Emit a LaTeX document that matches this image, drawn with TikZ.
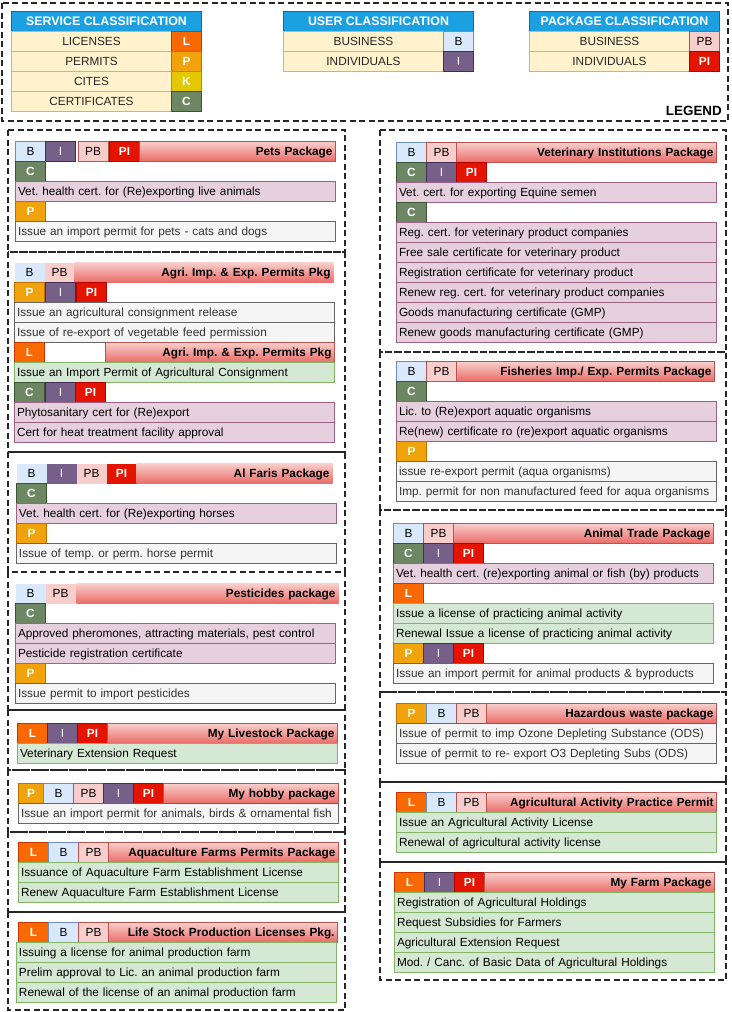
\documentclass[tikz,border=0pt]{standalone}
\usepackage{fontspec}
\setmainfont{Liberation Sans}
\frenchspacing
\newcommand{\itemfont}{\fontsize{11.8}{14}\selectfont}
\definecolor{fillL}{HTML}{FA6800}\definecolor{lineL}{HTML}{C73500}
\definecolor{fillP}{HTML}{F0A30A}\definecolor{lineP}{HTML}{BD7000}
\definecolor{fillK}{HTML}{E3C800}\definecolor{lineK}{HTML}{B09500}
\definecolor{fillC}{HTML}{6D8764}\definecolor{lineC}{HTML}{3A5431}
\definecolor{fillB}{HTML}{DAE8FC}\definecolor{lineB}{HTML}{6C8EBF}
\definecolor{fillI}{HTML}{76608A}\definecolor{lineI}{HTML}{432D57}
\definecolor{fillPB}{HTML}{F8CECC}\definecolor{linePB}{HTML}{B85450}
\definecolor{fillPI}{HTML}{E51400}\definecolor{linePI}{HTML}{B20000}
\definecolor{barTop}{HTML}{F8CECC}\definecolor{barBot}{HTML}{EA6B66}
\definecolor{pinkFill}{HTML}{E6D0DE}\definecolor{pinkLine}{HTML}{996185}
\definecolor{greyFill}{HTML}{F5F5F5}\definecolor{greyLine}{HTML}{666666}\definecolor{greyText}{HTML}{333333}
\definecolor{greenFill}{HTML}{D5E8D4}\definecolor{greenLine}{HTML}{82B366}
\definecolor{headFill}{HTML}{1BA1E2}\definecolor{headLine}{HTML}{006EAF}
\definecolor{rowFill}{HTML}{FFF2CC}\definecolor{rowLine}{HTML}{D6B656}
\tikzset{
  tag/.style={shape=rectangle, draw, line width=1pt, anchor=north west, minimum width=30, minimum height=20, inner sep=0pt, font=\itemfont},
  tagL/.style={tag, fill=fillL, draw=lineL, text=white, font=\itemfont\bfseries},
  tagP/.style={tag, fill=fillP, draw=lineP, text=white, font=\itemfont\bfseries},
  tagK/.style={tag, fill=fillK, draw=lineK, text=white, font=\itemfont\bfseries},
  tagC/.style={tag, fill=fillC, draw=lineC, text=white, font=\itemfont\bfseries},
  tagB/.style={tag, fill=fillB, draw=lineB},
  tagI/.style={tag, fill=fillI, draw=lineI, text=white},
  tagPB/.style={tag, fill=fillPB, draw=linePB},
  tagPI/.style={tag, fill=fillPI, draw=linePI, text=white, font=\itemfont\bfseries},
  pkgbar/.style={shape=rectangle, draw=linePB, line width=1pt, anchor=north west, minimum height=20, inner xsep=3pt, inner ysep=0pt, text height=10.4pt, text depth=2pt, top color=barTop, bottom color=barBot, align=right, text width=#1pt, font=\itemfont\bfseries},
  item/.style={shape=rectangle, line width=1pt, anchor=north west, minimum height=20, inner xsep=2.5pt, inner ysep=0pt, text height=10.4pt, text depth=2pt, text width=315pt, align=left, font=\itemfont},
  itempink/.style={item, fill=pinkFill, draw=pinkLine},
  itemgrey/.style={item, fill=greyFill, draw=greyLine, text=greyText},
  itemgreen/.style={item, fill=greenFill, draw=greenLine},
  legendhead/.style={shape=rectangle, fill=headFill, draw=headLine, line width=1pt, anchor=north west, minimum width=190, minimum height=20, inner sep=0pt, text=white, font=\fontsize{12.4}{14}\selectfont\bfseries},
  legendrow/.style={shape=rectangle, fill=rowFill, draw=rowLine, line width=1pt, anchor=north west, minimum width=160, minimum height=20, inner sep=0pt, text=black!85, font=\itemfont},
  groupbox/.style={draw=black!85, line width=1.5pt, dash pattern=on 6pt off 3.5pt}
}
\begin{document}
\begin{tikzpicture}[x=1pt, y=-1pt]
            \useasboundingbox[fill=white] (0,0) rectangle (731,1012);
            % Legend:
            \draw[groupbox] (2,3) rectangle (728,121);
            \node[legendhead] (svc-head) at (11,11) {SERVICE CLASSIFICATION};
            \node[legendrow] (svc-lic) at (11,31) {LICENSES};
            \node[legendrow] (svc-per) at (11,51) {PERMITS};
            \node[legendrow] (svc-cit) at (11,71) {CITES};
            \node[legendrow] (svc-cer) at (11,91) {CERTIFICATES};
            \node[tagL] (svc-L) at (171,31) {L};
            \node[tagP] (svc-P) at (171,51) {P};
            \node[tagK] (svc-K) at (171,71) {K};
            \node[tagC] (svc-C) at (171,91) {C};
            \node[legendhead] (usr-head) at (283,11) {USER CLASSIFICATION};
            \node[legendrow] (usr-bus) at (283,31) {BUSINESS};
            \node[legendrow] (usr-ind) at (283,51) {INDIVIDUALS};
            \node[tagB] (usr-B) at (443,31) {B};
            \node[tagI] (usr-I) at (443,51) {I};
            \node[legendhead] (pkg-head) at (529,11) {PACKAGE CLASSIFICATION};
            \node[legendrow] (pkg-bus) at (529,31) {BUSINESS};
            \node[legendrow] (pkg-ind) at (529,51) {INDIVIDUALS};
            \node[tagPB] (pkg-PB) at (689,31) {PB};
            \node[tagPI] (pkg-PI) at (689,51) {PI};
            \node[anchor=base east, inner sep=0pt, font=\fontsize{13.4}{15}\selectfont\bfseries] (legend) at (722,115.5) {LEGEND};
            % Left column:
            \draw[groupbox] (8,130) rectangle (345,252);
            \node[tagB] (pets-B) at (15,141) {B};
            \node[tagI] (pets-I) at (45,141) {I};
            \node[tagPB] (pets-PB) at (77.5,141) {PB};
            \node[tagPI] (pets-PI) at (109,141) {PI};
            \node[pkgbar=190] (pets-bar) at (139,141) {Pets Package};
            \node[tagC] (pets-C) at (15,161) {C};
            \node[itempink] (pets-c1) at (15,181) {Vet. health cert. for (Re)exporting live animals};
            \node[tagP] (pets-P) at (15,201) {P};
            \node[itemgrey] (pets-p1) at (15,221) {Issue an import permit for pets - cats and dogs};
            \draw[groupbox] (8,252) rectangle (345,452);
            \node[tagB, draw=none] (agri-B) at (14,262) {B};
            \node[tagPB, draw=none] (agri-PB) at (44,262) {PB};
            \node[pkgbar=253, draw=none] (agri-bar) at (74,262) {Agri. Imp. \& Exp. Permits Pkg};
            \node[tagP] (agri-P) at (14,282) {P};
            \node[tagI] (agri-I) at (45,282) {I};
            \node[tagPI] (agri-PI) at (76,282) {PI};
            \node[itemgrey] (agri-p1) at (14,302) {Issue an agricultural consignment release};
            \node[itemgrey] (agri-p2) at (14,322) {Issue of re-export of vegetable feed permission};
            \node[tagL] (agri-L) at (14,342) {L};
            \node[pkgbar=223] (agri-bar2) at (105,342) {Agri. Imp. \& Exp. Permits Pkg};
            \node[itemgreen] (agri-l1) at (14,362) {Issue an Import Permit of Agricultural Consignment};
            \node[tagC] (agri-C) at (14,382) {C};
            \node[tagI] (agri-I2) at (45,382) {I};
            \node[tagPI] (agri-PI2) at (75,382) {PI};
            \node[itempink] (agri-c1) at (14,402) {Phytosanitary cert for (Re)export};
            \node[itempink] (agri-c2) at (14,422) {Cert for heat treatment facility approval};
            \draw[groupbox] (8,452) rectangle (345,572);
            \node[tagB, draw=none] (faris-B) at (16,463) {B};
            \node[tagI, draw=none] (faris-I) at (46,463) {I};
            \node[tagPB, draw=none] (faris-PB) at (76,463) {PB};
            \node[tagPI, draw=none] (faris-PI) at (106,463) {PI};
            \node[pkgbar=190, draw=none] (faris-bar) at (136,463) {Al Faris Package};
            \node[tagC] (faris-C) at (16,483) {C};
            \node[itempink] (faris-c1) at (16,503) {Vet. health cert. for (Re)exporting horses};
            \node[tagP] (faris-P) at (16,523) {P};
            \node[itemgrey] (faris-p1) at (16,543) {Issue of temp. or perm. horse permit};
            \draw[groupbox] (8,572) rectangle (345,710);
            \node[tagB, draw=none] (pest-B) at (15,583) {B};
            \node[tagPB, draw=none] (pest-PB) at (45,583) {PB};
            \node[pkgbar=256, draw=none] (pest-bar) at (76,583) {Pesticides package};
            \node[tagC] (pest-C) at (15,603) {C};
            \node[itempink] (pest-c1) at (15,623) {Approved pheromones, attracting materials, pest control};
            \node[itempink] (pest-c2) at (15,643) {Pesticide registration certificate};
            \node[tagP] (pest-P) at (15,663) {P};
            \node[itemgrey] (pest-p1) at (15,683) {Issue permit to import pesticides};
            \draw[groupbox] (8,710) rectangle (345,770);
            \node[tagL] (stock-L) at (17,723) {L};
            \node[tagI] (stock-I) at (47,723) {I};
            \node[tagPI] (stock-PI) at (77,723) {PI};
            \node[pkgbar=224] (stock-bar) at (107,723) {My Livestock Package};
            \node[itemgreen] (stock-l1) at (17,743) {Veterinary Extension Request};
            \draw[groupbox] (8,770) rectangle (345,832);
            \node[tagP, minimum width=25] (hobby-P) at (18,783) {P};
            \node[tagB] (hobby-B) at (43,783) {B};
            \node[tagPB] (hobby-PB) at (73,783) {PB};
            \node[tagI] (hobby-I) at (103,783) {I};
            \node[tagPI] (hobby-PI) at (133,783) {PI};
            \node[pkgbar=169] (hobby-bar) at (163,783) {My hobby package};
            \node[itemgrey] (hobby-p1) at (18,803) {Issue an import permit for animals, birds \& ornamental fish};
            \draw[groupbox] (8,832) rectangle (345,912);
            \node[tagL] (aqua-L) at (18,842) {L};
            \node[tagB] (aqua-B) at (48,842) {B};
            \node[tagPB] (aqua-PB) at (78,842) {PB};
            \node[pkgbar=224] (aqua-bar) at (108,842) {Aquaculture Farms Permits Package};
            \node[itemgreen] (aqua-l1) at (18,862) {Issuance of Aquaculture Farm Establishment License};
            \node[itemgreen] (aqua-l2) at (18,882) {Renew Aquaculture Farm Establishment License};
            \draw[groupbox] (8,912) rectangle (345,1010);
            \node[tagL] (prod-L) at (18,922) {L};
            \node[tagB] (prod-B) at (48,922) {B};
            \node[tagPB] (prod-PB) at (78,922) {PB};
            \node[pkgbar=223] (prod-bar) at (108,922) {Life Stock Production Licenses Pkg.};
            \node[itemgreen] (prod-l1) at (16,942) {Issuing a license for animal production farm};
            \node[itemgreen] (prod-l2) at (16,962) {Prelim approval to Lic. an animal production farm};
            \node[itemgreen] (prod-l3) at (16,982) {Renewal of the license of an animal production farm};
            % Right column:
            \draw[groupbox] (380,130) rectangle (726,352);
            \node[tagB] (vet-B) at (396,142) {B};
            \node[tagPB] (vet-PB) at (426,142) {PB};
            \node[pkgbar=254] (vet-bar) at (456,142) {Veterinary Institutions Package};
            \node[tagC] (vet-C) at (396,162) {C};
            \node[tagI] (vet-I) at (426,162) {I};
            \node[tagPI] (vet-PI) at (456,162) {PI};
            \node[itempink] (vet-c1) at (396,182) {Vet. cert. for exporting Equine semen};
            \node[tagC] (vet-C2) at (396,202) {C};
            \node[itempink] (vet-c2) at (396,222) {Reg. cert. for veterinary product companies};
            \node[itempink] (vet-c3) at (396,242) {Free sale certificate for veterinary product};
            \node[itempink] (vet-c4) at (396,262) {Registration certificate for veterinary product};
            \node[itempink] (vet-c5) at (396,282) {Renew reg. cert. for veterinary product companies};
            \node[itempink] (vet-c6) at (396,302) {Goods manufacturing certificate (GMP)};
            \node[itempink] (vet-c7) at (396,322) {Renew goods manufacturing certificate (GMP)};
            \draw[groupbox] (380,352) rectangle (726,510);
            \node[tagB] (fish-B) at (396,361) {B};
            \node[tagPB] (fish-PB) at (426,361) {PB};
            \node[pkgbar=252] (fish-bar) at (456,361) {Fisheries Imp./ Exp. Permits Package};
            \node[tagC] (fish-C) at (396,381) {C};
            \node[itempink] (fish-c1) at (396,401) {Lic. to (Re)export aquatic organisms};
            \node[itempink] (fish-c2) at (396,421) {Re(new) certificate ro (re)export aquatic organisms};
            \node[tagP] (fish-P) at (396,441) {P};
            \node[itemgrey] (fish-p1) at (396,461) {issue re-export permit (aqua organisms)};
            \node[itemgrey] (fish-p2) at (396,481) {Imp. permit for non manufactured feed for aqua organisms};
            \draw[groupbox] (380,510) rectangle (726,692);
            \node[tagB] (trade-B) at (393,523) {B};
            \node[tagPB] (trade-PB) at (423,523) {PB};
            \node[pkgbar=254] (trade-bar) at (453,523) {Animal Trade Package};
            \node[tagC] (trade-C) at (393,543) {C};
            \node[tagI] (trade-I) at (423,543) {I};
            \node[tagPI] (trade-PI) at (453,543) {PI};
            \node[itempink] (trade-c1) at (393,563) {Vet. health cert. (re)exporting animal or fish (by) products};
            \node[tagL] (trade-L) at (393,583) {L};
            \node[itemgreen] (trade-l1) at (393,603) {Issue a license of practicing animal activity};
            \node[itemgreen] (trade-l2) at (393,623) {Renewal Issue a license of practicing animal activity};
            \node[tagP] (trade-P) at (393,643) {P};
            \node[tagI] (trade-I2) at (423,643) {I};
            \node[tagPI] (trade-PI2) at (453,643) {PI};
            \node[itemgrey] (trade-p1) at (393,663) {Issue an import permit for animal products \& byproducts};
            \draw[groupbox] (380,692) rectangle (726,782);
            \node[tagP] (haz-P) at (396,703) {P};
            \node[tagB] (haz-B) at (426,703) {B};
            \node[tagPB] (haz-PB) at (456,703) {PB};
            \node[pkgbar=224] (haz-bar) at (486,703) {Hazardous waste package};
            \node[itemgrey] (haz-p1) at (396,723) {Issue of permit to imp Ozone Depleting Substance (ODS)};
            \node[itemgrey] (haz-p2) at (396,743) {Issue of permit to re- export O3 Depleting Subs (ODS)};
            \draw[groupbox] (380,782) rectangle (726,862);
            \node[tagL] (act-L) at (396,792) {L};
            \node[tagB] (act-B) at (426,792) {B};
            \node[tagPB] (act-PB) at (456,792) {PB};
            \node[pkgbar=224] (act-bar) at (486,792) {Agricultural Activity Practice Permit};
            \node[itemgreen] (act-l1) at (396,812) {Issue an Agricultural Activity License};
            \node[itemgreen] (act-l2) at (396,832) {Renewal of agricultural activity license};
            \draw[groupbox] (380,862) rectangle (726,980);
            \node[tagL] (farm-L) at (394,872) {L};
            \node[tagI] (farm-I) at (424,872) {I};
            \node[tagPI] (farm-PI) at (454,872) {PI};
            \node[pkgbar=224] (farm-bar) at (484,872) {My Farm Package};
            \node[itemgreen] (farm-l1) at (394,892) {Registration of Agricultural Holdings};
            \node[itemgreen] (farm-l2) at (394,912) {Request Subsidies for Farmers};
            \node[itemgreen] (farm-l3) at (394,932) {Agricultural Extension Request};
            \node[itemgreen] (farm-l4) at (394,952) {Mod. / Canc. of Basic Data of Agricultural Holdings};
        \end{tikzpicture}
\end{document}
